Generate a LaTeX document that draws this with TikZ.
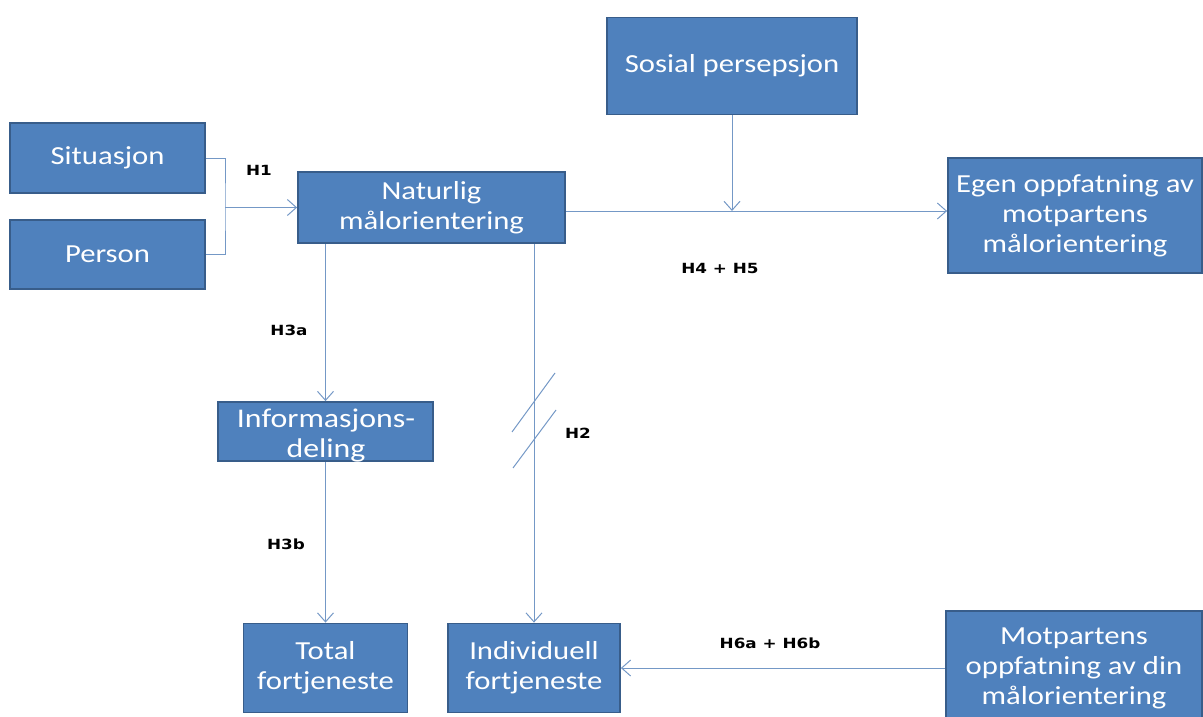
\documentclass[tikz,border=0pt]{standalone}
\usepackage{fontspec}
\setmainfont{Carlito}[FakeStretch=1.18]
\newfontfamily\hlabelfont{DejaVu Sans}[FakeStretch=1.2]
\usetikzlibrary{arrows.meta}
\definecolor{boxfill}{HTML}{4F81BD}
\definecolor{boxline}{HTML}{385D8A}
\definecolor{linkline}{HTML}{7498C6}

\begin{document}
\begin{tikzpicture}[x=1pt, y=-1pt,
    concept/.style={rectangle, draw=boxline, line width=1.8pt, fill=boxfill,
        text=white, align=center, inner sep=2pt,
        font=\fontsize{26}{30}\selectfont},
    link/.style={draw=linkline, line width=1pt},
    tip/.style={-{Straight Barb[length=9pt, width=16pt]}},
    hyp/.style={font=\hlabelfont\bfseries\fontsize{14}{16}\selectfont, text=black}]
\useasboundingbox (0,0) rectangle (1203,717);

% boxes
\node[concept, minimum width=195pt, minimum height=70pt] (sit) at (107.5,158) {Situasjon};
\node[concept, minimum width=195pt, minimum height=69pt] (pers) at (107.5,254.5) {Person};
\node[concept, minimum width=267pt, minimum height=71pt] (nat) at (431.5,207.5) {Naturlig\\målorientering};
\node[concept, minimum width=250pt, minimum height=97pt] (sos) at (732,66) {Sosial persepsjon};
\node[concept, minimum width=254pt, minimum height=115pt] (egen) at (1075,215.5) {Egen oppfatning av\\motpartens\\målorientering};
\node[concept, minimum width=215pt, minimum height=59pt, inner sep=0pt] (info) at (325.5,431.5) {};
\node[text=white, align=center, font=\fontsize{27}{30}\selectfont] (infotext) at (326,436) {Informasjons-\\deling};
\node[concept, minimum width=164pt, minimum height=89pt] (total) at (325.5,668) {Total\\fortjeneste};
\node[concept, minimum width=172pt, minimum height=89pt] (indiv) at (534,668) {Individuell\\fortjeneste};
\node[concept, minimum width=256pt, minimum height=114pt] (motp) at (1074,668) {Motpartens\\oppfatning av din\\målorientering};

% connectors
\coordinate (join) at (225,207.5);
\coordinate (meet) at (732,211);
\draw[link] (sit.east) -| (join) |- (pers.east);
\draw[link, tip] (join) -- (nat.west);
\draw[link, tip] (nat.east |- meet) -- (egen.west |- meet);
\draw[link, tip] (sos.south) -- (meet);
\draw[link, tip] (info.north |- nat.south) -- (info.north);
\draw[link, tip] (info.south) -- (total.north);
\draw[link, tip] (indiv.north |- nat.south) -- (indiv.north);
\draw[link, tip] (motp.west |- indiv.east) -- (indiv.east);

% break marks on H2
\draw[link] (512,432) -- (555,373);
\draw[link] (513,468) -- (556,410);

% hypothesis labels
\node[hyp] (h1) at (259,170) {H1};
\node[hyp] (h3a) at (289,330) {H3a};
\node[hyp] (h45) at (720,268) {H4 + H5};
\node[hyp] (h2) at (578,433) {H2};
\node[hyp] (h3b) at (286,544) {H3b};
\node[hyp] (h6) at (770,643) {H6a + H6b};
\end{tikzpicture}
\end{document}
